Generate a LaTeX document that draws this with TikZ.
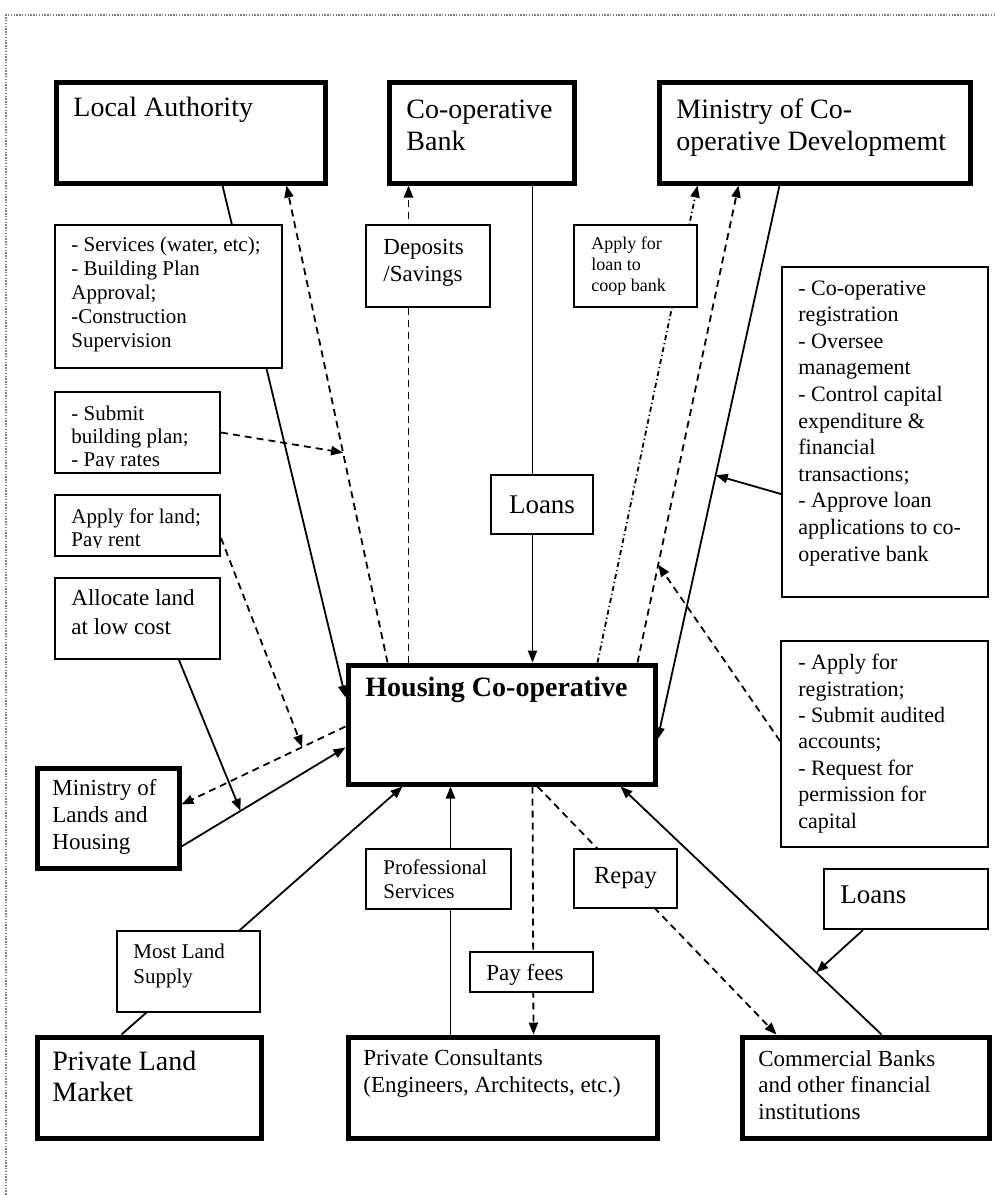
\documentclass[tikz,border=0pt]{standalone}
\usepackage{fontspec}
\setmainfont{Liberation Serif}
\usetikzlibrary{arrows.meta,backgrounds}

\newcommand{\boxfont}[2]{\fontsize{#1}{#2}\selectfont}

\tikzset{
  bigbox/.style={draw, line width=2.5pt, fill=white, inner sep=0pt, anchor=north west},
  notebox/.style={draw, line width=1pt, fill=white, inner sep=0pt, anchor=north west},
  sz/.style 2 args={minimum width=#1*0.5pt, minimum height=#2*0.5pt},
  txt/.style={anchor=base west, inner sep=0pt, align=left},% placed at the baseline of the last line
  conn/.style={line width=0.9pt},
  arr/.style={-{Triangle[length=6pt,width=4.6pt]}},
  dashline/.style={conn, dash pattern=on 3.5pt off 2.5pt},
  dotline/.style={conn, dash pattern=on 2.5pt off 1.5pt on 0.6pt off 1.5pt},
}

\begin{document}
\begin{tikzpicture}[x=0.5pt, y=-0.5pt]
    \useasboundingbox (0,0) rectangle (995,1195);
    \draw[gray, line width=0.6pt, dash pattern=on 0.7pt off 0.7pt] (995,15) -- (6,15) -- (6,1195);

    % main actors
    \node[bigbox, sz={269}{101}] (la) at (53.5,79.5) {};
    \node[bigbox, sz={185}{101}] (cb) at (386.5,79.5) {};
    \node[bigbox, sz={311}{101}] (mcd) at (656.5,79.5) {};
    \node[bigbox, sz={307}{119}] (hc) at (345.5,662.5) {};
    \node[bigbox, sz={142}{100}] (mlh) at (34.5,765.5) {};
    \node[bigbox, sz={224}{101}] (plm) at (34.5,1034.5) {};
    \node[bigbox, sz={309}{101}] (pc) at (345.5,1034.5) {};
    \node[bigbox, sz={247}{101}] (comb) at (739.5,1034.5) {};

    % notes
    \node[notebox, sz={227}{143}] (services) at (54,224) {};
    \node[notebox, sz={124}{82}] (deposits) at (365,224) {};
    \node[notebox, sz={165}{81}] (submit) at (54,391) {};
    \node[notebox, sz={165}{61}] (applyland) at (54,494) {};
    \node[notebox, sz={165}{81}] (allocate) at (54,577) {};
    \node[notebox, sz={123}{82}] (applyloan) at (573,224) {};
    \node[notebox, sz={206}{330}] (coopreg) at (781,266) {};
    \node[notebox, sz={102}{59}] (loansc) at (490,474) {};
    \node[notebox, sz={207}{206}] (applyreg) at (780,640) {};
    \node[notebox, sz={103}{59}] (repay) at (573,848) {};
    \node[notebox, sz={164}{60}] (loansr) at (823,868) {};
    \node[notebox, sz={145}{60}] (profserv) at (365,848) {};
    \node[notebox, sz={143}{81}] (mostland) at (116,930) {};
    \node[notebox, sz={123}{40}] (payfees) at (469,951) {};

    % texts
    \node[txt, font=\boxfont{14}{16}] (la-t) at (73,116) {Local Authority};
    \node[txt, font=\boxfont{14}{16}] (cb-t) at (406,150) {Co-operative\\Bank};
    \node[txt, font=\boxfont{14}{16}] (mcd-t) at (676,150) {Ministry of Co-\\operative Developmemt};
    \node[txt, font=\boxfont{14}{16}\bfseries] (hc-t) at (365,696) {Housing Co-operative};
    \node[txt, font=\boxfont{11.5}{13.5}] (mlh-t) at (52,849) {Ministry of\\Lands and\\Housing};
    \node[txt, font=\boxfont{14}{15.5}] (plm-t) at (52,1101) {Private Land\\Market};
    \node[txt, font=\boxfont{11.5}{13.5}] (pc-t) at (363,1092) {Private Consultants\\(Engineers, Architects, etc.)};
    \node[txt, font=\boxfont{11.5}{13.2}] (comb-t) at (758,1119) {Commercial Banks\\and other financial\\institutions};

    \node[txt, font=\boxfont{10.5}{12}] (services-t) at (71,347) {- Services (water, etc);\\- Building Plan\\Approval;\\-Construction\\Supervision};
    \node[txt, font=\boxfont{11.5}{13.5}] (deposits-t) at (383,281) {Deposits\\/Savings};
    \begin{scope}
        \clip (submit.north west) rectangle (219,467);
        \node[txt, font=\boxfont{10.5}{11.5}] (submit-t) at (71,466) {- Submit\\building plan;\\- Pay rates};
    \end{scope}
    \begin{scope}
        \clip (applyland.north west) rectangle (219,547);
        \node[txt, font=\boxfont{10.5}{11.5}] (applyland-t) at (71,546) {Apply for land;\\Pay rent};
    \end{scope}
    \node[txt, font=\boxfont{11.5}{14.5}] (allocate-t) at (71,634) {Allocate land\\at low cost};
    \node[txt, font=\boxfont{9}{10.5}] (applyloan-t) at (591,291) {Apply for\\loan to\\coop bank};
    \node[txt, font=\boxfont{11}{13.3}] (coopreg-t) at (798,561) {- Co-operative\\registration\\- Oversee\\management\\- Control capital\\expenditure \&\\financial\\transactions;\\- Approve loan\\applications to co-\\operative bank};
    \node[inner sep=0pt, font=\boxfont{13.5}{16}] (loansc-t) at (loansc.center) {Loans};
    \node[txt, font=\boxfont{11}{13.2}] (applyreg-t) at (798,828) {- Apply for\\registration;\\- Submit audited\\accounts;\\- Request for\\permission for\\capital};
    \node[inner sep=0pt, font=\boxfont{12.3}{14}] (repay-t) at (repay.center) {Repay};
    \node[txt, font=\boxfont{13.5}{16}] (loansr-t) at (840,903) {Loans};
    \node[txt, font=\boxfont{10.5}{12}] (profserv-t) at (383,898) {Professional\\Services};
    \node[txt, font=\boxfont{10.5}{12.5}] (mostland-t) at (133,983) {Most Land\\Supply};
    \node[txt, font=\boxfont{11.5}{13.5}] (payfees-t) at (486,980) {Pay fees};

    % flows
    \begin{pgfonlayer}{background}
        \draw[conn, arr] ([shift={(32,0)}]la.south) -- ([shift={(0,-27)}]hc.west);
        \draw[dashline, arr] ([shift={(-114,0)}]hc.north) -- coordinate[pos=0.44] (plan-hit) ([shift={(96,0)}]la.south);
        \draw[dashline, arr] ([shift={(-93,0)}]hc.north) -- ([shift={(-73,0)}]cb.south);
        \draw[conn, arr] ([shift={(51,0)}]cb.south) -- ([shift={(31,0)}]hc.north);
        \draw[dotline, arr] ([shift={(96,0)}]hc.north) -- ([shift={(-117,0)}]mcd.south);
        \draw[dashline, arr] ([shift={(136,0)}]hc.north) -- coordinate[pos=0.205] (reg-hit) ([shift={(-76,0)}]mcd.south);
        \draw[conn, arr] ([shift={(-35,0)}]mcd.south) -- coordinate[pos=0.523] (ctrl-hit) ([shift={(0,15)}]hc.east);
        \draw[conn, arr] ([shift={(0,62)}]coopreg.west) -- (ctrl-hit);
        \draw[dashline, arr] ([shift={(0,-3)}]applyreg.west) -- (reg-hit);
        \draw[dashline, arr] (submit.east) -- (plan-hit);
        \draw[dashline, arr] ([shift={(0,2)}]hc.west) -- coordinate[pos=0.264] (rent-hit) ([shift={(0,-13.5)}]mlh.east);
        \draw[dashline, arr] ([shift={(0,12.5)}]applyland.east) -- (rent-hit);
        \draw[conn, arr] ([shift={(0,28.5)}]mlh.east) -- coordinate[pos=0.36] (alloc-hit) ([shift={(0,23)}]hc.west);
        \draw[conn, arr] ([shift={(41.5,0)}]allocate.south) -- (alloc-hit);
        \draw[conn, arr] ([shift={(-27.5,0)}]plm.north) -- ([shift={(-99,0)}]hc.south);
        \draw[conn, arr] ([shift={(-52,0)}]pc.north) -- ([shift={(-51,0)}]hc.south);
        \draw[dashline, arr] ([shift={(31,0)}]hc.south) -- ([shift={(31,0)}]pc.north);
        \draw[dashline, arr] ([shift={(36,0)}]hc.south) -- ([shift={(-89,0)}]comb.north);
        \draw[conn, arr] ([shift={(16,0)}]comb.north) -- coordinate[pos=0.25] (bank-hit) ([shift={(119,0)}]hc.south);
        \draw[conn, arr] ([shift={(-43,0)}]loansr.south) -- (bank-hit);
    \end{pgfonlayer}
\end{tikzpicture}
\end{document}
